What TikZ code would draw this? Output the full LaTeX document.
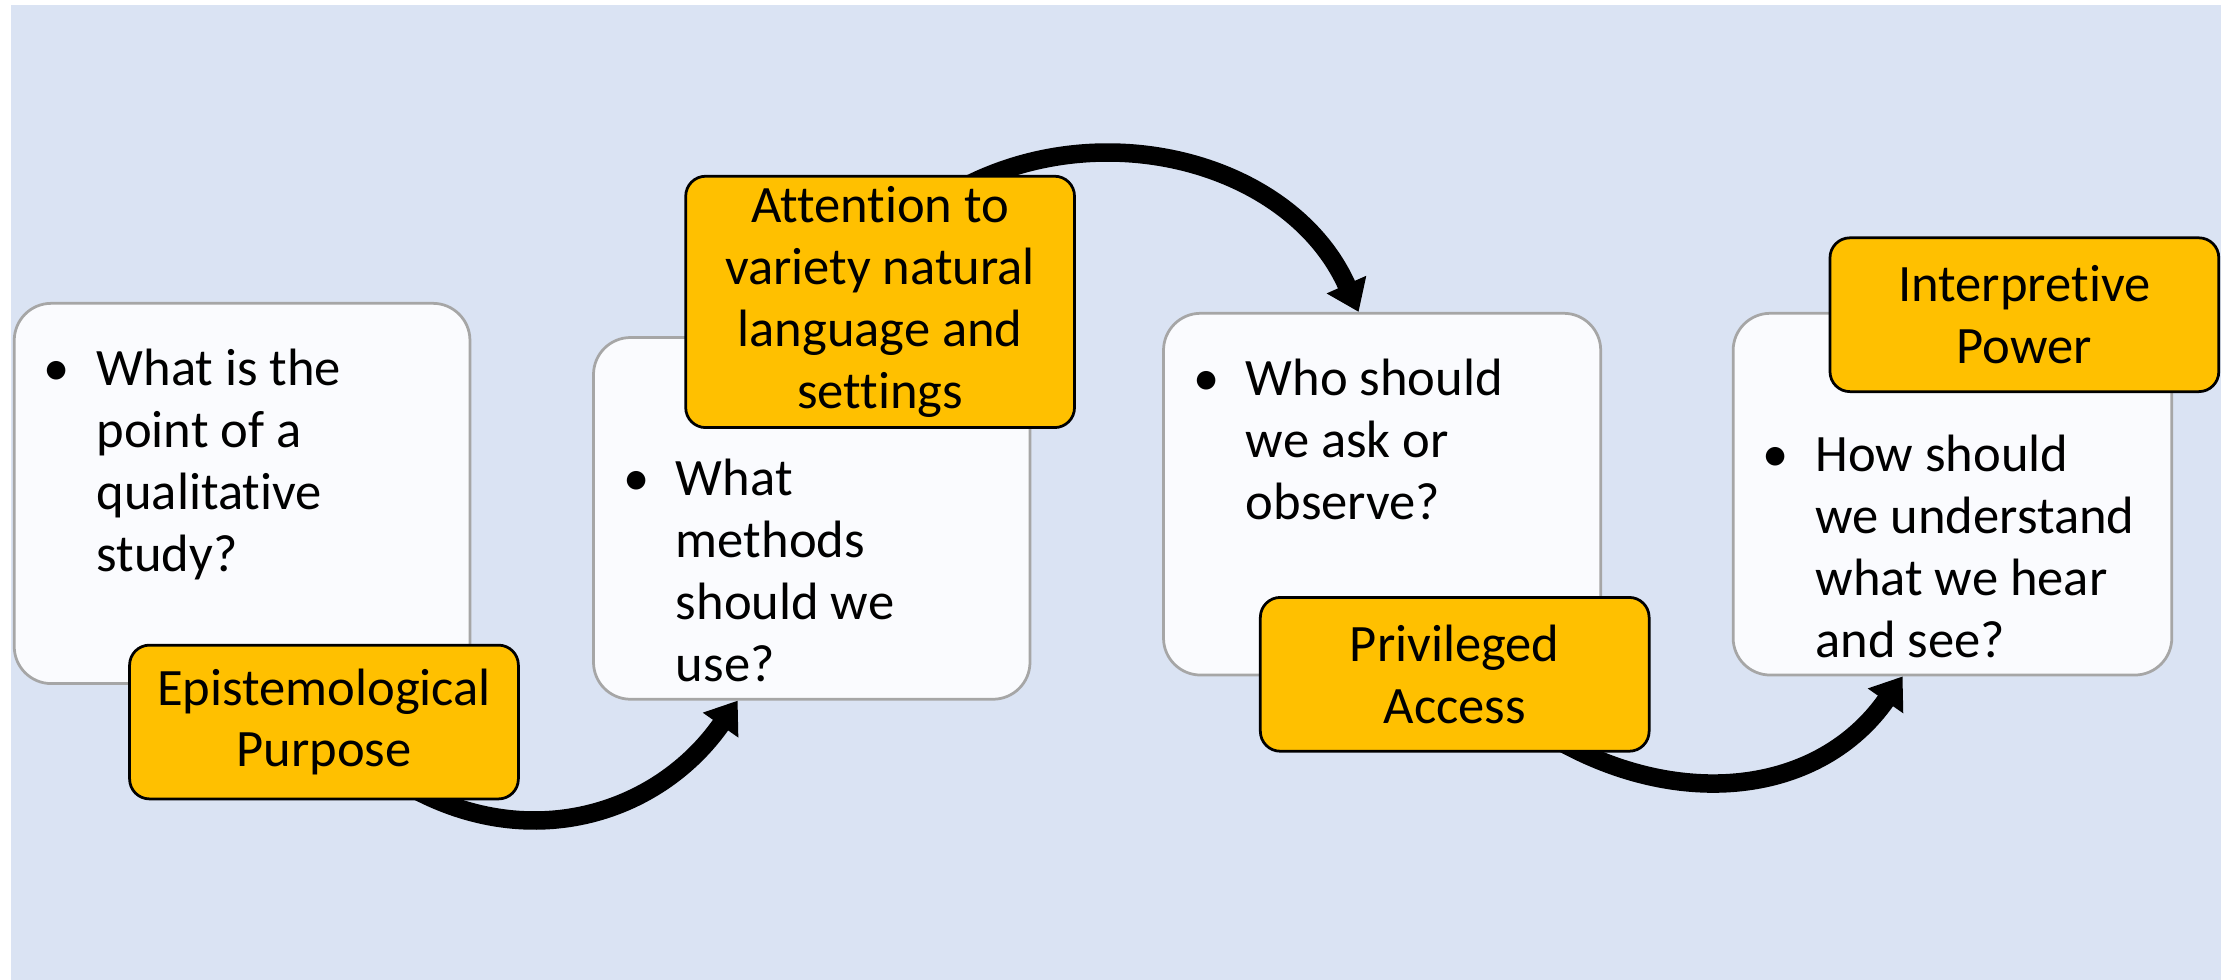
\documentclass[tikz,border=0pt]{standalone}
\usepackage{fontspec}
\setmainfont{Carlito}[Ligatures=NoCommon]
\usetikzlibrary{arrows.meta,positioning}
\definecolor{mybg}{RGB}{218,227,243}
\definecolor{mywhite}{RGB}{250,251,254}
\definecolor{mygray}{RGB}{166,166,166}
\definecolor{myorange}{RGB}{255,192,0}
\newcommand{\qfont}{\fontsize{21}{24.7}\selectfont}
\newcommand{\qitem}[1]{\makebox[0.74cm][l]{\textbullet}\begin{tabular}[t]{@{}l@{}}#1\end{tabular}}
\pgfdeclarelayer{back}
\pgfdeclarelayer{links}
\pgfsetlayers{back,links,main}

\begin{document}
\begin{tikzpicture}[
  qbox/.style={
    draw=mygray,
    line width=1.1pt,
    fill=mywhite,
    rounded corners=0.52cm,
    minimum width=#1,
    minimum height=5.08cm,
    inner sep=0pt
    },
  qtext/.style={
    anchor=north west,
    inner sep=0pt,
    font=\qfont
    },
  keybox/.style={
    draw=black,
    line width=1.1pt,
    fill=myorange,
    rounded corners=0.28cm,
    minimum width=5.46cm,
    minimum height=#1,
    inner sep=0pt,
    align=center,
    font=\qfont
    },
  flowarrow/.style={
    line width=0.26cm,
    -{Triangle[length=0.42cm,width=0.58cm]}
    }
]

\useasboundingbox (0,0) rectangle (31.36,13.76);

% question boxes
\begin{pgfonlayer}{back}
\fill[mybg] (0.155,0) rectangle (31.19,13.69);
\node[qbox=6.40cm, minimum height=5.34cm] (point) at (3.40,6.83) {};
\node[qbox=6.13cm] (methods) at (11.40,6.48) {};
\node[qbox=6.14cm] (who) at (19.41,6.82) {};
\node[qbox=6.16cm] (how) at (27.42,6.82) {};
\end{pgfonlayer}

\node[qtext] (point-q) at ([xshift=0.43cm,yshift=-0.56cm]point.north west)
  {\qitem{What is the\\point of a\\qualitative\\study?}};
\node[qtext] (methods-q) at ([xshift=0.43cm,yshift=-1.63cm]methods.north west)
  {\qitem{What\\methods\\should we\\use?}};
\node[qtext] (who-q) at ([xshift=0.43cm,yshift=-0.56cm]who.north west)
  {\qitem{Who should\\we ask or\\observe?}};
\node[qtext] (how-q) at ([xshift=0.43cm,yshift=-1.63cm]how.north west)
  {\qitem{How should\\we understand\\what we hear\\and see?}};

% key ideas
\node[keybox=2.16cm] (epist) at (4.55,3.62) {Epistemological\\Purpose};
\node[keybox=3.53cm] (attention) at (12.36,9.52) {Attention to\\variety natural\\language and\\settings};
\node[keybox=2.16cm] (access) at (20.43,4.29) {Privileged\\Access};
\node[keybox=2.16cm] (power) at (28.43,9.34) {Interpretive\\Power};

% arrows
\begin{pgfonlayer}{links}
\draw[flowarrow] ([xshift=1.15cm,yshift=0.22cm]epist.south) to[out=-30,in=-125,looseness=1.05] ([xshift=-1.04cm]methods.south);
\draw[flowarrow] ([xshift=1.14cm,yshift=-0.19cm]attention.north) to[out=28,in=114] ([xshift=-0.33cm]who.north);
\draw[flowarrow] ([xshift=1.4cm,yshift=0.2cm]access.south) to[out=-30,in=-125,looseness=1.05] ([xshift=-0.7cm]how.south);
\end{pgfonlayer}
\end{tikzpicture}
\end{document}
